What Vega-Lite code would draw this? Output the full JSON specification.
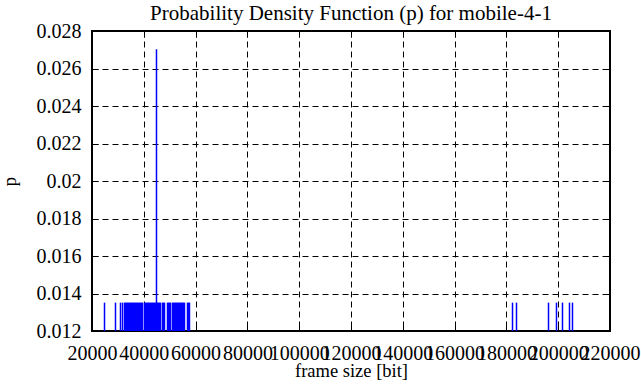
{
  "$schema": "https://vega.github.io/schema/vega-lite/v6.json",
  "width": 518,
  "height": 300,
  "autosize": {"type": "none"},
  "padding": {"left": 92, "top": 31, "right": 31, "bottom": 56},
  "background": "white",
  "title": {"text": "Probability Density Function (p) for mobile-4-1", "font": "'Liberation Serif', 'Times New Roman', serif", "fontSize": 21, "fontWeight": "normal", "color": "black", "offset": -3, "anchor": "middle", "frame": "group"},
  "config": {"view": {"stroke": "black", "strokeWidth": 2}, "font": "'Liberation Serif', 'Times New Roman', serif"},
  "data": {"values": [
    {"size": 24830, "p": 0.0135135},
    {"size": 29070, "p": 0.0135135},
    {"size": 31000, "p": 0.0135135},
    {"size": 31780, "p": 0.0135135},
    {"size": 32550, "p": 0.0135135},
    {"size": 32940, "p": 0.0135135},
    {"size": 33320, "p": 0.0135135},
    {"size": 33710, "p": 0.0135135},
    {"size": 34090, "p": 0.0135135},
    {"size": 34480, "p": 0.0135135},
    {"size": 34870, "p": 0.0135135},
    {"size": 35250, "p": 0.0135135},
    {"size": 35640, "p": 0.0135135},
    {"size": 36020, "p": 0.0135135},
    {"size": 36410, "p": 0.0135135},
    {"size": 36800, "p": 0.0135135},
    {"size": 37180, "p": 0.0135135},
    {"size": 37570, "p": 0.0135135},
    {"size": 37950, "p": 0.0135135},
    {"size": 38340, "p": 0.0135135},
    {"size": 38730, "p": 0.0135135},
    {"size": 39110, "p": 0.0135135},
    {"size": 39500, "p": 0.0135135},
    {"size": 40270, "p": 0.0135135},
    {"size": 40660, "p": 0.0135135},
    {"size": 41040, "p": 0.0135135},
    {"size": 41430, "p": 0.0135135},
    {"size": 41810, "p": 0.0135135},
    {"size": 42200, "p": 0.0135135},
    {"size": 42590, "p": 0.0135135},
    {"size": 42970, "p": 0.0135135},
    {"size": 43360, "p": 0.0135135},
    {"size": 43740, "p": 0.0135135},
    {"size": 44130, "p": 0.0135135},
    {"size": 44520, "p": 0.0135135},
    {"size": 44900, "p": 0.027027},
    {"size": 45290, "p": 0.0135135},
    {"size": 45680, "p": 0.0135135},
    {"size": 46060, "p": 0.0135135},
    {"size": 46450, "p": 0.0135135},
    {"size": 47220, "p": 0.0135135},
    {"size": 47610, "p": 0.0135135},
    {"size": 47990, "p": 0.0135135},
    {"size": 49150, "p": 0.0135135},
    {"size": 49540, "p": 0.0135135},
    {"size": 49920, "p": 0.0135135},
    {"size": 50310, "p": 0.0135135},
    {"size": 51080, "p": 0.0135135},
    {"size": 51470, "p": 0.0135135},
    {"size": 51850, "p": 0.0135135},
    {"size": 52240, "p": 0.0135135},
    {"size": 52620, "p": 0.0135135},
    {"size": 53010, "p": 0.0135135},
    {"size": 53400, "p": 0.0135135},
    {"size": 53780, "p": 0.0135135},
    {"size": 54170, "p": 0.0135135},
    {"size": 54560, "p": 0.0135135},
    {"size": 54940, "p": 0.0135135},
    {"size": 55330, "p": 0.0135135},
    {"size": 55710, "p": 0.0135135},
    {"size": 56870, "p": 0.0135135},
    {"size": 57260, "p": 0.0135135},
    {"size": 57640, "p": 0.0135135},
    {"size": 182360, "p": 0.0135135},
    {"size": 183900, "p": 0.0135135},
    {"size": 196260, "p": 0.0135135},
    {"size": 199340, "p": 0.0135135},
    {"size": 201660, "p": 0.0135135},
    {"size": 204360, "p": 0.0135135},
    {"size": 205520, "p": 0.0135135}
  ]},
  "resolve": {"axis": {"x": "independent", "y": "independent"}},
  "layer": [
    {
      "mark": {"type": "rule", "color": "#0000ff", "strokeWidth": 1.5},
      "encoding": {
        "x": {"field": "size", "type": "quantitative",
          "scale": {"domain": [20000, 220000], "nice": false, "zero": false},
          "axis": {"orient": "bottom", "values": [20000, 40000, 60000, 80000, 100000, 120000, 140000, 160000, 180000, 200000, 220000],
            "format": "d", "labelOverlap": false, "labelFlush": false, "domain": false,
            "tickSize": -6, "tickColor": "black", "tickWidth": 1, "labelPadding": 18,
            "labelFont": "'Liberation Serif', 'Times New Roman', serif", "labelFontSize": 20, "labelColor": "black",
            "grid": true, "gridColor": "black", "gridDash": [6, 4], "gridWidth": 1, "gridOpacity": 1,
            "title": "frame size [bit]", "titleFont": "'Liberation Serif', 'Times New Roman', serif", "titleFontSize": 18.5, "titleFontWeight": "normal", "titleColor": "black",
            "titleX": 259, "titleY": 45.5, "titleBaseline": "alphabetic", "titleAnchor": "middle"}},
        "y": {"field": "p", "type": "quantitative",
          "scale": {"domain": [0.012, 0.028], "nice": false, "zero": false},
          "axis": {"orient": "left", "values": [0.012, 0.014, 0.016, 0.018, 0.02, 0.022, 0.024, 0.026, 0.028],
            "format": "~g", "labelOverlap": false, "labelFlush": false, "domain": false,
            "tickSize": -6, "tickColor": "black", "tickWidth": 1, "labelPadding": 17,
            "labelFont": "'Liberation Serif', 'Times New Roman', serif", "labelFontSize": 20, "labelColor": "black",
            "grid": true, "gridColor": "black", "gridDash": [6, 4], "gridWidth": 1, "gridOpacity": 1,
            "title": "p", "titleFont": "'Liberation Serif', 'Times New Roman', serif", "titleFontSize": 18.5, "titleFontWeight": "normal", "titleColor": "black",
            "titleX": -77, "titleY": 150, "titleBaseline": "alphabetic", "titleAnchor": "middle", "titleAngle": -90}},
        "y2": {"datum": 0.012}
      }
    },
    {
      "mark": {"type": "point", "opacity": 0},
      "encoding": {
        "x": {"field": "size", "type": "quantitative",
          "axis": {"orient": "top", "values": [40000, 60000, 80000, 100000, 120000, 140000, 160000, 180000, 200000],
            "labels": false, "domain": false, "grid": false, "tickSize": -6, "tickColor": "black", "tickWidth": 1, "title": null}},
        "y": {"field": "p", "type": "quantitative",
          "axis": {"orient": "right", "values": [0.014, 0.016, 0.018, 0.02, 0.022, 0.024, 0.026],
            "labels": false, "domain": false, "grid": false, "tickSize": -6, "tickColor": "black", "tickWidth": 1, "title": null}}
      }
    }
  ]
}
